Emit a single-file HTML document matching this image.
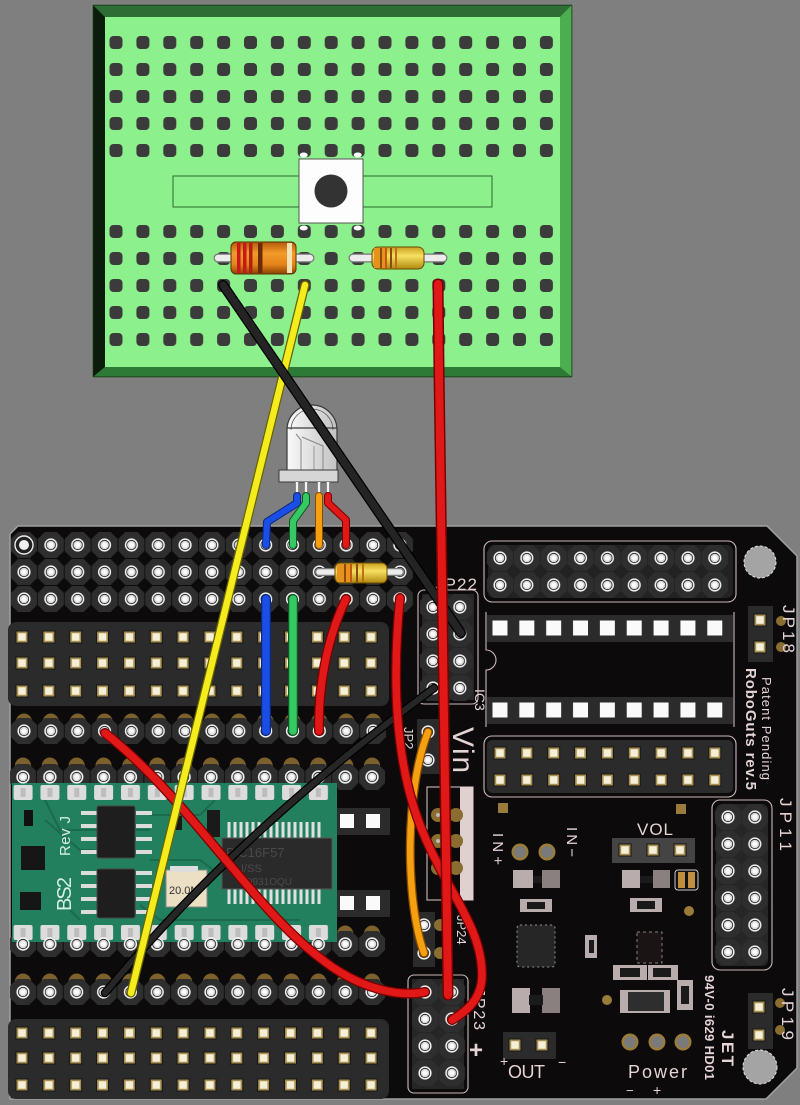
<!DOCTYPE html>
<html><head><meta charset="utf-8">
<style>html,body{margin:0;padding:0;background:#7f7f7f;width:800px;height:1105px;overflow:hidden}svg{display:block}</style>
</head><body>
<svg width="800" height="1105" viewBox="0 0 800 1105" xmlns="http://www.w3.org/2000/svg" xmlns:xlink="http://www.w3.org/1999/xlink" font-family="'Liberation Sans', sans-serif">
<defs>
 <g id="h"><circle r="6.6" fill="#f0f0f0"/><circle r="5.1" fill="#1a1a1a"/><circle r="4.3" fill="#dadada"/><circle r="2.6" fill="#fbfbfb"/></g>
 <g id="hp"><polygon points="-6,-13 6,-13 13,-6 13,6 6,13 -6,13 -13,6 -13,-6" fill="#2e2e2e"/><use href="#h" xlink:href="#h"/></g>
 <g id="sq"><rect x="-6.5" y="-6.5" width="13" height="13" fill="#141414"/><rect x="-5.5" y="-5.5" width="11" height="11" fill="#a68f50"/><rect x="-3.8" y="-3.8" width="7.6" height="7.6" fill="#f4efd6"/></g>
 <pattern id="pR" patternUnits="userSpaceOnUse" width="26.85" height="27"><use href="#hp" xlink:href="#hp" x="13.425" y="13.5"/></pattern>
 <pattern id="pH" patternUnits="userSpaceOnUse" width="26.85" height="27"><use href="#h" xlink:href="#h" x="13.425" y="13.5"/></pattern>
 <pattern id="pS" patternUnits="userSpaceOnUse" width="26.85" height="27"><use href="#sq" xlink:href="#sq" x="13.425" y="13.5"/></pattern>
 <pattern id="pW" patternUnits="userSpaceOnUse" width="26.85" height="27"><rect x="5.9" y="6" width="15" height="15" fill="#fafafa"/></pattern>
 <pattern id="pG" patternUnits="userSpaceOnUse" width="26.85" height="27"><circle cx="13.425" cy="13.5" r="8" fill="#7c612c"/></pattern>
 <pattern id="pP" patternUnits="userSpaceOnUse" width="26.85" height="16"><rect x="4" y="0" width="19" height="15" rx="2" fill="#dcdcdc"/><rect x="11" y="3" width="5" height="9" fill="#bdbdbd"/></pattern>
 <pattern id="pB" patternUnits="userSpaceOnUse" x="102.55" y="29" width="26.9" height="27"><rect x="6.95" y="7" width="13" height="13" rx="4" fill="#3b3b3b"/></pattern>
 <linearGradient id="resO" x1="0" y1="0" x2="0" y2="1"><stop offset="0" stop-color="#b45a0c"/><stop offset="0.35" stop-color="#f39a2a"/><stop offset="0.7" stop-color="#e4841a"/><stop offset="1" stop-color="#8a4206"/></linearGradient>
 <linearGradient id="resY" x1="0" y1="0" x2="0" y2="1"><stop offset="0" stop-color="#c9a020"/><stop offset="0.4" stop-color="#f8e060"/><stop offset="1" stop-color="#b08a10"/></linearGradient>
 <linearGradient id="ledG" x1="0" y1="0" x2="1" y2="0"><stop offset="0" stop-color="#fafafa"/><stop offset="1" stop-color="#c2c2c2"/></linearGradient>
</defs>

<rect width="800" height="1105" fill="#7f7f7f"/>

<!-- ===== Breadboard ===== -->
<rect x="92.5" y="4.5" width="480" height="373" fill="none" stroke="#a8a8a8" stroke-width="1"/>
<polygon points="93,5 572,5 560,17 105,17" fill="#2e6d33"/>
<polygon points="93,5 105,17 105,367 93,377" fill="#0c1c0c"/>
<polygon points="572,5 572,377 560,367 560,17" fill="#4cae4e"/>
<polygon points="93,377 572,377 560,367 105,367" fill="#2c7a35"/>
<rect x="105" y="17" width="455" height="350" fill="#8cf08c"/>
<rect x="93" y="5" width="479" height="372" fill="none" stroke="#143014" stroke-width="1"/>
<rect x="102.55" y="29" width="457.3" height="135" fill="url(#pB)"/>
<rect x="102.55" y="218" width="457.3" height="135" fill="url(#pB)"/>
<rect x="173" y="176" width="319" height="31" fill="#8cf08c" stroke="#2d6b2d" stroke-width="1"/>
<ellipse cx="303.7" cy="155" rx="4" ry="2.5" fill="#fff"/><ellipse cx="357.7" cy="155" rx="4" ry="2.5" fill="#fff"/>
<ellipse cx="303.7" cy="228" rx="4" ry="2.5" fill="#fff"/><ellipse cx="357.7" cy="228" rx="4" ry="2.5" fill="#fff"/>
<rect x="299" y="159" width="64" height="64" fill="#fdfdfd" stroke="#555" stroke-width="1"/>
<circle cx="331" cy="191" r="16.5" fill="#333"/>

<!-- resistor 1 -->
<line x1="218" y1="258" x2="310" y2="258" stroke="#777" stroke-width="9" stroke-linecap="round"/>
<line x1="218" y1="258" x2="310" y2="258" stroke="#ececec" stroke-width="6.5" stroke-linecap="round"/>
<rect x="231" y="242" width="65" height="32" rx="5" fill="url(#resO)" stroke="#5a3000" stroke-width="1"/>
<rect x="237" y="243" width="3.5" height="30" fill="#c81818"/>
<rect x="243" y="243" width="3.5" height="30" fill="#c81818"/>
<rect x="249" y="243" width="3.5" height="30" fill="#b22010"/>
<rect x="258" y="243" width="4.5" height="30" fill="#6a2c08"/>
<rect x="287" y="243" width="5" height="30" fill="#f2e2b4"/>
<!-- resistor 2 -->
<line x1="353" y1="258" x2="443" y2="258" stroke="#777" stroke-width="9" stroke-linecap="round"/>
<line x1="353" y1="258" x2="443" y2="258" stroke="#ececec" stroke-width="6.5" stroke-linecap="round"/>
<rect x="372" y="247" width="52" height="22" rx="6" fill="url(#resY)" stroke="#6a4a00" stroke-width="1"/>
<rect x="374" y="248" width="12" height="20" fill="#e8921e"/>
<rect x="380" y="248" width="2" height="20" fill="#8a4a10"/>
<rect x="385" y="248" width="2" height="20" fill="#c05a10"/>
<rect x="390" y="248" width="2" height="20" fill="#8a4a10"/>
<rect x="395" y="248" width="2" height="20" fill="#c07010"/>

<!-- ===== LED ===== -->
<path d="M287,472 V430 A25,25 0 0 1 337,430 V472 Z" fill="url(#ledG)" stroke="#3a3a3a" stroke-width="1.2"/>
<path d="M291,430 A21,21 0 0 1 333,430" fill="none" stroke="#555" stroke-width="0.8"/>
<line x1="287" y1="428" x2="337" y2="428" stroke="#3a3a3a" stroke-width="1.2"/>
<path d="M296,434 L301,440 V470" fill="none" stroke="#888" stroke-width="1"/>
<path d="M302,437 L323,446 V470" fill="none" stroke="#888" stroke-width="1"/>
<line x1="314" y1="446" x2="314" y2="470" stroke="#999" stroke-width="1"/>
<rect x="279" y="470" width="59" height="12" fill="#d6d6d6" stroke="#3a3a3a" stroke-width="1"/>
<g stroke-linecap="butt">
<line x1="297" y1="482" x2="297" y2="497" stroke="#666" stroke-width="4"/><line x1="297" y1="482" x2="297" y2="497" stroke="#f4f4f4" stroke-width="2.5"/>
<line x1="306" y1="482" x2="306" y2="497" stroke="#666" stroke-width="4"/><line x1="306" y1="482" x2="306" y2="497" stroke="#f4f4f4" stroke-width="2.5"/>
<line x1="319" y1="482" x2="319" y2="497" stroke="#666" stroke-width="4"/><line x1="319" y1="482" x2="319" y2="497" stroke="#f4f4f4" stroke-width="2.5"/>
<line x1="328" y1="482" x2="328" y2="497" stroke="#666" stroke-width="4"/><line x1="328" y1="482" x2="328" y2="497" stroke="#f4f4f4" stroke-width="2.5"/>
</g>

<!-- ===== PCB ===== -->
<polygon points="10,534 18,526 767,526 797,556 797,1068 766,1099 10,1099" fill="#0c0a0a" stroke="#a0a0a0" stroke-width="1.5"/>

<!-- gold pad arcs -->
<g transform="translate(10.575,708)"><rect width="375.9" height="27" fill="url(#pG)"/></g>
<g transform="translate(9.575,968)"><rect width="375.9" height="27" fill="url(#pG)"/></g>
<g transform="translate(9.575,920)"><rect width="375.9" height="27" fill="url(#pG)"/></g>
<g transform="translate(9.575,752)"><rect width="375.9" height="27" fill="url(#pG)"/></g>

<!-- left hole rows -->
<g transform="translate(10.575,531.5)"><rect width="402.75" height="81" fill="url(#pR)"/></g>
<g transform="translate(10.575,717.5)"><rect width="375.9" height="27" fill="url(#pR)"/></g>
<g transform="translate(9.575,763.5)"><rect width="375.9" height="27" fill="url(#pR)"/></g>
<g transform="translate(9.575,930.5)"><rect width="375.9" height="27" fill="url(#pR)"/></g>
<g transform="translate(9.575,978.5)"><rect width="375.9" height="27" fill="url(#pR)"/></g>
<circle cx="24" cy="545" r="9" fill="#222" stroke="#eee" stroke-width="1.4"/><circle cx="24" cy="545" r="5" fill="#f2f2f2"/>

<!-- square pad strips -->
<rect x="8" y="622" width="381" height="84" rx="8" fill="#2b2b2b"/>
<g transform="translate(8.575,623.5)"><rect width="375.9" height="27" fill="url(#pS)"/></g>
<g transform="translate(8.575,649.5)"><rect width="375.9" height="27" fill="url(#pS)"/></g>
<g transform="translate(8.575,677.5)"><rect width="375.9" height="27" fill="url(#pS)"/></g>
<rect x="8" y="1019" width="381" height="80" rx="8" fill="#2b2b2b"/>
<g transform="translate(8.575,1019.5)"><rect width="375.9" height="27" fill="url(#pS)"/></g>
<g transform="translate(8.575,1044.5)"><rect width="375.9" height="27" fill="url(#pS)"/></g>
<g transform="translate(8.575,1071.5)"><rect width="375.9" height="27" fill="url(#pS)"/></g>

<!-- white squares right of BS2 -->
<rect x="336" y="808" width="54" height="27" fill="#2b2b2b"/>
<rect x="336" y="890" width="54" height="27" fill="#2b2b2b"/>
<rect x="340" y="814" width="14" height="14" fill="#fafafa"/><rect x="366" y="814" width="14" height="14" fill="#fafafa"/>
<rect x="340" y="896" width="14" height="14" fill="#fafafa"/><rect x="366" y="896" width="14" height="14" fill="#fafafa"/>

<!-- ===== BS2 module ===== -->
<rect x="12" y="783" width="325" height="159" fill="#22805f"/>
<g fill="none" stroke="#1a6a4e" stroke-width="2">
<path d="M45,800 L60,830 L150,830"/><path d="M45,820 L80,850 L95,850"/><path d="M150,860 L200,860 L220,875"/><path d="M140,905 L160,920 L300,920"/><path d="M60,900 L80,920"/><path d="M150,815 L200,815 L215,800"/>
</g>
<g transform="translate(9.575,785)"><rect width="322.2" height="16" fill="url(#pP)"/></g>
<g transform="translate(9.575,925)"><rect width="322.2" height="16" fill="url(#pP)"/></g>
<g transform="translate(9.575,763.5)"><rect width="375.9" height="27" fill="url(#pH)"/></g>
<g transform="translate(9.575,930.5)"><rect width="375.9" height="27" fill="url(#pH)"/></g>
<!-- chips -->
<g fill="#dcdcdc">
<rect x="81" y="811" width="16" height="4"/><rect x="81" y="824" width="16" height="4"/><rect x="81" y="837" width="16" height="4"/><rect x="81" y="850" width="16" height="4"/>
<rect x="136" y="811" width="16" height="4"/><rect x="136" y="824" width="16" height="4"/><rect x="136" y="837" width="16" height="4"/><rect x="136" y="850" width="16" height="4"/>
<rect x="81" y="871" width="16" height="4"/><rect x="81" y="884" width="16" height="4"/><rect x="81" y="897" width="16" height="4"/><rect x="81" y="910" width="16" height="4"/>
<rect x="136" y="871" width="16" height="4"/><rect x="136" y="884" width="16" height="4"/><rect x="136" y="897" width="16" height="4"/><rect x="136" y="910" width="16" height="4"/>
</g>
<rect x="97" y="806" width="38" height="52" rx="2" fill="#1e1e1e" stroke="#444"/>
<rect x="97" y="869" width="38" height="49" rx="2" fill="#1e1e1e" stroke="#444"/>
<g stroke="#e0e0e0" stroke-width="3">
<path d="M229,822V838M235,822V838M241,822V838M247,822V838M253,822V838M259,822V838M265,822V838M271,822V838M277,822V838M283,822V838M289,822V838M295,822V838M301,822V838M307,822V838M313,822V838M319,822V838"/>
<path d="M229,888V904M235,888V904M241,888V904M247,888V904M253,888V904M259,888V904M265,888V904M271,888V904M277,888V904M283,888V904M289,888V904M295,888V904M301,888V904M307,888V904M313,888V904M319,888V904"/>
</g>
<rect x="222" y="838" width="110" height="51" fill="#2a2a2a" stroke="#555"/>
<rect x="166" y="870" width="41" height="37" fill="#ece0c4" stroke="#888"/>
<rect x="170" y="866" width="28" height="6" fill="#ddd"/>
<rect x="207" y="810" width="13" height="27" fill="#1a1a1a"/>
<rect x="172" y="816" width="10" height="14" fill="#1a1a1a"/>
<rect x="24" y="810" width="9" height="16" fill="#111"/>
<rect x="21" y="846" width="24" height="24" fill="#161616"/>
<rect x="20" y="892" width="21" height="18" fill="#161616"/>
<text x="169" y="894" font-size="11" fill="#333">20.0M</text>
<text x="226" y="857" font-size="13" fill="#4a4a4a">PIC16F57</text>
<text x="241" y="872" font-size="11" fill="#4a4a4a">I/SS</text>
<text x="247" y="885" font-size="10" fill="#4a4a4a">0931OQU</text>
<text transform="translate(71,911) rotate(-90)" font-size="20" fill="#d6f0e2" textLength="34">BS2</text>
<text transform="translate(70,856) rotate(-90)" font-size="15" fill="#d6f0e2" textLength="40">Rev J</text>

<!-- ===== Right side of PCB ===== -->
<g fill="none" stroke="#cdb8b8" stroke-width="1.1">
<rect x="484" y="541" width="252" height="61" rx="8"/>
<rect x="484" y="736" width="252" height="61" rx="8"/>
<path d="M486,612 V650 A10,10 0 0 1 486,670 V727"/>
<path d="M734,612 V727"/>
<rect x="427" y="787" width="46" height="113"/>
<rect x="418" y="590" width="60" height="114" rx="6"/>
<rect x="408" y="975" width="60" height="118" rx="6"/>
<rect x="712" y="800" width="60" height="170" rx="8"/>
</g>
<!-- upper right 2x9 holes -->
<rect x="488" y="545" width="245" height="53" rx="6" fill="#222"/>
<g transform="translate(486.575,544.5)"><rect width="241.65" height="54" fill="url(#pR)"/></g>
<!-- IC socket -->
<rect x="487" y="615" width="246" height="27" fill="#2b2b2b"/>
<rect x="487" y="697" width="246" height="27" fill="#2b2b2b"/>
<g transform="translate(486.575,614.5)"><rect width="241.65" height="27" fill="url(#pW)"/></g>
<g transform="translate(486.575,696.5)"><rect width="241.65" height="27" fill="url(#pW)"/></g>
<!-- 2x9 square pads -->
<rect x="487" y="740" width="246" height="53" rx="5" fill="#2b2b2b"/>
<g transform="translate(486.575,739.5)"><rect width="241.65" height="54" fill="url(#pS)"/></g>
<!-- JP18 -->
<rect x="748" y="606" width="25" height="56" fill="#2b2b2b"/>
<use href="#sq" xlink:href="#sq" x="760" y="620"/><use href="#sq" xlink:href="#sq" x="760" y="647"/>
<circle cx="781" cy="621" r="5" fill="#8a6d30"/><circle cx="781" cy="647" r="5" fill="#8a6d30"/>
<!-- JP19 -->
<rect x="748" y="993" width="25" height="56" fill="#2b2b2b"/>
<use href="#sq" xlink:href="#sq" x="759" y="1007"/><use href="#sq" xlink:href="#sq" x="759" y="1035"/>
<circle cx="780" cy="1003" r="5" fill="#8a6d30"/><circle cx="780" cy="1030" r="5" fill="#8a6d30"/>
<!-- JP11 -->
<rect x="716" y="804" width="52" height="162" rx="6" fill="#262626"/>
<g transform="translate(714.575,803.5)"><rect width="53.7" height="162" fill="url(#pR)"/></g>
<!-- JP22 -->
<rect x="422" y="594" width="52" height="106" fill="#262626"/>
<g transform="translate(419.575,593.5)"><rect width="53.7" height="108" fill="url(#pR)"/></g>
<!-- JP23 -->
<rect x="412" y="979" width="52" height="110" fill="#262626"/>
<g transform="translate(411.575,978.5)"><rect width="53.7" height="108" fill="url(#pR)"/></g>
<!-- small 2-hole headers -->
<rect x="417" y="719" width="23" height="55" fill="#2b2b2b"/>
<use href="#h" xlink:href="#h" x="428" y="732"/><use href="#h" xlink:href="#h" x="428" y="760"/>
<rect x="413" y="912" width="22" height="55" fill="#2b2b2b"/>
<circle cx="440" cy="925" r="6" fill="#8a6d30"/><circle cx="440" cy="953" r="6" fill="#8a6d30"/>
<use href="#h" xlink:href="#h" x="424" y="925"/><use href="#h" xlink:href="#h" x="424" y="953"/>
<!-- Vin box -->
<rect x="460" y="787" width="13" height="113" fill="#e0d0d0"/>
<g fill="#8a6d30"><circle cx="438" cy="815" r="7"/><circle cx="456" cy="815" r="7"/><circle cx="438" cy="841" r="7"/><circle cx="456" cy="841" r="7"/><circle cx="438" cy="868" r="7"/><circle cx="456" cy="868" r="7"/></g>
<g fill="#bbb"><circle cx="438" cy="815" r="2"/><circle cx="438" cy="841" r="2"/><circle cx="438" cy="868" r="2"/></g>

<!-- mounting holes -->
<circle cx="760" cy="562" r="16" fill="#a4a4a4" stroke="#e0e0e0" stroke-width="1" stroke-dasharray="3,2"/>
<circle cx="760" cy="1067" r="17" fill="#a4a4a4" stroke="#e0e0e0" stroke-width="1" stroke-dasharray="3,2"/>

<!-- power section parts -->
<rect x="612" y="838" width="83" height="25" fill="#444"/>
<use href="#sq" xlink:href="#sq" x="625" y="850"/><use href="#sq" xlink:href="#sq" x="653" y="850"/><use href="#sq" xlink:href="#sq" x="680" y="850"/>
<rect x="503" y="1032" width="53" height="27" fill="#2b2b2b"/>
<use href="#sq" xlink:href="#sq" x="515" y="1045"/><use href="#sq" xlink:href="#sq" x="542" y="1045"/>
<g fill="#9a7c3a"><circle cx="520" cy="852" r="8.5"/><circle cx="547" cy="852" r="8.5"/><circle cx="630" cy="1042" r="8.5"/><circle cx="657" cy="1042" r="8.5"/><circle cx="683" cy="1042" r="8.5"/>
<rect x="498" y="803" width="10" height="10"/><rect x="676" y="804" width="10" height="10"/><circle cx="689" cy="911" r="5"/><circle cx="607" cy="1000" r="5"/></g>
<g fill="#7a7a7a"><circle cx="520" cy="852" r="6"/><circle cx="547" cy="852" r="6"/><circle cx="630" cy="1042" r="6"/><circle cx="657" cy="1042" r="6"/><circle cx="683" cy="1042" r="6"/></g>
<g fill="#b8acac">
<rect x="513" y="870" width="20" height="18"/><rect x="542" y="870" width="18" height="18" fill="#8a8080"/>
<rect x="622" y="870" width="18" height="18"/><rect x="653" y="870" width="17" height="18" fill="#8a8080"/>
<rect x="520" y="899" width="32" height="13"/><rect x="630" y="898" width="32" height="14"/>
<rect x="613" y="965" width="34" height="15"/><rect x="648" y="965" width="30" height="15"/>
<rect x="512" y="988" width="18" height="25"/><rect x="542" y="988" width="18" height="25" fill="#8a8080"/>
<rect x="585" y="935" width="12" height="23"/><rect x="677" y="980" width="16" height="30"/>
<rect x="620" y="990" width="50" height="23"/>
</g>
<g fill="#1a1a1a">
<rect x="533" y="876" width="9" height="7"/><rect x="640" y="876" width="13" height="7"/>
<rect x="527" y="902" width="18" height="7"/><rect x="637" y="901" width="18" height="8"/>
<rect x="620" y="968" width="20" height="9"/><rect x="653" y="968" width="18" height="9"/>
<rect x="529" y="995" width="14" height="10"/><rect x="628" y="992" width="36" height="19" fill="#2e2e2e"/>
<rect x="589" y="940" width="5" height="13"/><rect x="681" y="986" width="8" height="18"/>
</g>
<rect x="517" y="925" width="38" height="42" rx="3" fill="#262626" stroke="#9a9090" stroke-width="1" stroke-dasharray="2,3"/>
<rect x="637" y="932" width="25" height="31" fill="#1a1414" stroke="#8a8080" stroke-dasharray="3,3"/>
<rect x="675" y="870" width="23" height="20" rx="3" fill="#111" stroke="#ccc"/>
<rect x="678" y="872" width="7" height="16" fill="#c09040"/><rect x="688" y="872" width="7" height="16" fill="#c09040"/>

<!-- silkscreen text -->
<g fill="#e4d4d4">
<text x="435" y="590" font-size="17" textLength="42">JP22</text>
<text transform="translate(475,689) rotate(90)" font-size="14">IC3</text>
<text transform="translate(453,727) rotate(90)" font-size="30" textLength="46">Vin</text>
<text transform="translate(404,727) rotate(90)" font-size="13">JP2</text>
<text transform="translate(457,915) rotate(90)" font-size="13">JP24</text>
<text transform="translate(474,988) rotate(90)" font-size="16" textLength="42">JP23</text>
<text x="469" y="1058" font-size="24" font-weight="bold">+</text>
<text transform="translate(762,677) rotate(90)" font-size="13" textLength="103">Patent Pending</text>
<text transform="translate(746,668) rotate(90)" font-size="15" font-weight="bold" textLength="122">RoboGuts rev.5</text>
<text transform="translate(783,605) rotate(90)" font-size="17" textLength="48">JP18</text>
<text transform="translate(780,798) rotate(90)" font-size="17" textLength="53">JP11</text>
<text transform="translate(782,988) rotate(90)" font-size="17" textLength="52">JP19</text>
<text x="637" y="835" font-size="17" textLength="36">VOL</text>
<text transform="translate(493,833) rotate(90)" font-size="15" textLength="32">IN+</text>
<text transform="translate(567,827) rotate(90)" font-size="15" textLength="30">IN−</text>
<text x="508" y="1078" font-size="18" textLength="37">OUT</text>
<text x="500" y="1066" font-size="14">+</text>
<text x="558" y="1067" font-size="14">−</text>
<text x="628" y="1078" font-size="18" textLength="59">Power</text>
<text x="626" y="1095" font-size="13">−</text>
<text x="653" y="1095" font-size="14">+</text>
<text transform="translate(705,975) rotate(90)" font-size="13" font-weight="bold" textLength="105">94V-0 i629 HD01</text>
<text transform="translate(722,1030) rotate(90)" font-size="17" font-weight="bold" textLength="36">JET</text>
</g>

<!-- PCB resistor -->
<line x1="319" y1="572" x2="400" y2="572" stroke="#777" stroke-width="8" stroke-linecap="round"/>
<line x1="319" y1="572" x2="400" y2="572" stroke="#ececec" stroke-width="5.5" stroke-linecap="round"/>
<rect x="335" y="563" width="52" height="20" rx="5" fill="url(#resY)" stroke="#6a4a00"/>
<rect x="337" y="564" width="14" height="18" fill="#e8921e"/>
<rect x="344" y="564" width="2" height="18" fill="#8a4a10"/><rect x="350" y="564" width="2" height="18" fill="#c05a10"/><rect x="356" y="564" width="2" height="18" fill="#8a4a10"/><rect x="362" y="564" width="2" height="18" fill="#c07010"/>

<!-- ===== Wires ===== -->
<g fill="none" stroke-linecap="round" stroke-linejoin="round">
 <!-- LED legs -->
 <path d="M297,496 L297,503 L267,522 L266,545" stroke="#0a2a80" stroke-width="8"/>
 <path d="M297,496 L297,503 L267,522 L266,545" stroke="#1a4ee6" stroke-width="6"/>
 <path d="M306,496 L306,503 L293,521 L293,545" stroke="#0c5a20" stroke-width="8"/>
 <path d="M306,496 L306,503 L293,521 L293,545" stroke="#36c864" stroke-width="6"/>
 <path d="M319,496 L319,545" stroke="#8a4a00" stroke-width="8"/>
 <path d="M319,496 L319,545" stroke="#f5a010" stroke-width="6"/>
 <path d="M328,496 L328,503 L346,520 L346,545" stroke="#7a0000" stroke-width="8"/>
 <path d="M328,496 L328,503 L346,520 L346,545" stroke="#e01818" stroke-width="6"/>

 <!-- PCB jumpers -->
 <path d="M266,599 L266,731" stroke="#0a2a80" stroke-width="10"/>
 <path d="M266,599 L266,731" stroke="#1a4ee6" stroke-width="7.5"/>
 <path d="M293,599 L293,731" stroke="#0c5a20" stroke-width="10"/>
 <path d="M293,599 L293,731" stroke="#36c864" stroke-width="7.5"/>
 <path d="M346,599 C 326,640 318,690 319,731" stroke="#7a0000" stroke-width="10"/>
 <path d="M346,599 C 326,640 318,690 319,731" stroke="#e01818" stroke-width="7.5"/>
 <path d="M428,732 C 405,790 405,900 424,953" stroke="#8a4a00" stroke-width="9"/>
 <path d="M428,732 C 405,790 405,900 424,953" stroke="#f5a010" stroke-width="6.5"/>

 <path d="M105,993 Q 235,835 434,688" stroke="#000" stroke-width="8.5"/>
 <path d="M105,993 Q 235,835 434,688" stroke="#262626" stroke-width="6"/>
 <path d="M105,733 C 190,800 250,905 320,958 C 360,990 400,997 425,992" stroke="#7a0000" stroke-width="10"/>
 <path d="M105,733 C 190,800 250,905 320,958 C 360,990 400,997 425,992" stroke="#e01818" stroke-width="7.5"/>
 <path d="M305,285 L131,993" stroke="#6a6400" stroke-width="9"/>
 <path d="M305,285 L131,993" stroke="#f4ec1c" stroke-width="6.5"/>
 <path d="M223,285 L461,633" stroke="#000" stroke-width="10"/>
 <path d="M223,285 L461,633" stroke="#242424" stroke-width="7.5"/>
 <path d="M400,598 C 392,680 395,760 420,825 C 445,890 482,925 482,975 C 482,1000 465,1012 452,1020" stroke="#7a0000" stroke-width="10"/>
 <path d="M400,598 C 392,680 395,760 420,825 C 445,890 482,925 482,975 C 482,1000 465,1012 452,1020" stroke="#e01818" stroke-width="7.5"/>
 <path d="M438,284 C 440,500 446,700 448,995" stroke="#7a0000" stroke-width="11"/>
 <path d="M438,284 C 440,500 446,700 448,995" stroke="#e01818" stroke-width="8"/>
</g>
</svg>
</body></html>
